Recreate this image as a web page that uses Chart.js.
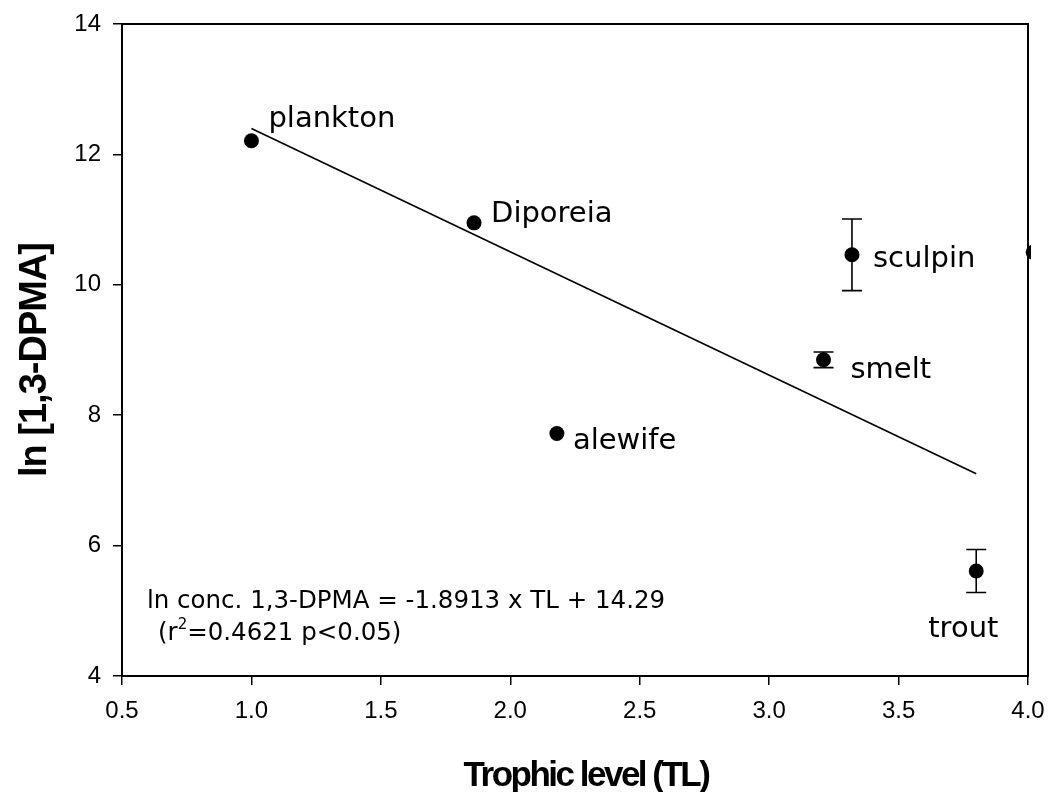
<!DOCTYPE html>
<html lang="en">
<head>
<meta charset="UTF-8">
<title>ln [1,3-DPMA] vs trophic level</title>
<style>
  html, body { margin: 0; padding: 0; background: #fff; }
</style>
</head>
<body>
<canvas id="tl-chart" width="1048" height="792"></canvas>
<script src="https://cdn.jsdelivr.net/npm/chart.js@4.4.1/dist/chart.umd.min.js"></script>
<script>
// food web samples: trophic level vs ln concentration (+/- error)
var species = ["plankton", "Diporeia", "alewife", "smelt", "sculpin", "trout", ""];
var trophic = [1.0, 1.86, 2.18, 3.21, 3.32, 3.80, 4.02];
var lnConc  = [12.21, 10.95, 7.72, 8.85, 10.46, 5.61, 10.5];
var lnErr   = [0, 0, 0, 0.12, 0.55, 0.33, 0];

// regression from the equation printed on the plot
var slope = -1.8913;
var intercept = 14.29;
var fitFrom = 1.0, fitTo = 3.8;

var xTicks = [0.5, 1.0, 1.5, 2.0, 2.5, 3.0, 3.5, 4.0];
var yTicks = [4, 6, 8, 10, 12, 14];

// label placement next to each dot: [dx, dy] to the text baseline start
var labelOffset = {
  plankton: [17, -14],
  Diporeia: [17, -1],
  alewife: [16, 16],
  smelt: [27, 18],
  sculpin: [21, 12],
  trout: [-48, 66]
};

var labelFont = '29px "DejaVu Sans"';
var eqFont = '24.5px "DejaVu Sans"';

var points = trophic.map(function (t, i) { return { x: t, y: lnConc[i] }; });
var fitLine = [fitFrom, fitTo].map(function (t) { return { x: t, y: slope * t + intercept }; });

var frame = {
  id: 'frame',
  afterDraw: function (chart) {
    var a = chart.chartArea, c = chart.ctx;
    c.save();
    c.strokeStyle = '#000';
    c.lineWidth = 2;
    c.strokeRect(a.left, a.top, a.right - a.left, a.bottom - a.top);
    c.restore();
  }
};

var errorBars = {
  id: 'errorBars',
  afterDatasetsDraw: function (chart) {
    var xs = chart.scales.x, ys = chart.scales.y, c = chart.ctx;
    c.save();
    c.strokeStyle = '#000';
    c.lineWidth = 1.6;
    for (var i = 0; i < trophic.length; i++) {
      if (!lnErr[i]) continue;
      var px = xs.getPixelForValue(trophic[i]);
      var top = ys.getPixelForValue(lnConc[i] + lnErr[i]);
      var bot = ys.getPixelForValue(lnConc[i] - lnErr[i]);
      c.beginPath();
      c.moveTo(px, top); c.lineTo(px, bot);
      c.moveTo(px - 10, top); c.lineTo(px + 10, top);
      c.moveTo(px - 10, bot); c.lineTo(px + 10, bot);
      c.stroke();
    }
    c.restore();
  }
};

var pointLabels = {
  id: 'pointLabels',
  afterDraw: function (chart) {
    var xs = chart.scales.x, ys = chart.scales.y, c = chart.ctx;
    var a = chart.chartArea;
    c.save();
    c.fillStyle = '#000';
    c.textBaseline = 'alphabetic';
    c.textAlign = 'left';
    c.font = labelFont;
    species.forEach(function (name, i) {
      if (!name) return;
      var off = labelOffset[name];
      c.fillText(name, xs.getPixelForValue(trophic[i]) + off[0], ys.getPixelForValue(lnConc[i]) + off[1]);
    });

    // regression equation, lower left
    c.font = eqFont;
    var ex = a.left + 25, ey = a.bottom - 68;
    c.fillText('ln conc. 1,3-DPMA = ' + slope + ' x TL + ' + intercept, ex, ey);
    var lx = ex + 11, ly = ey + 32;
    c.fillText('(r', lx, ly);
    var w = c.measureText('(r').width;
    c.font = '15px "DejaVu Sans"';
    c.fillText('2', lx + w, ly - 11);
    var w2 = c.measureText('2').width;
    c.font = eqFont;
    c.fillText('=0.4621 p<0.05)', lx + w + w2, ly);
    c.restore();
  }
};

var axisTitles = {
  id: 'axisTitles',
  afterDraw: function (chart) {
    var a = chart.chartArea, c = chart.ctx;
    c.save();
    c.fillStyle = '#000';
    c.textAlign = 'center';
    c.textBaseline = 'alphabetic';
    c.font = 'bold 35px "Liberation Sans"';
    c.letterSpacing = '-2.5px';
    c.fillText('Trophic level (TL)', (a.left + a.right) / 2 + 11, 786);
    c.font = 'bold 38px "Liberation Sans"';
    c.letterSpacing = '-1px';
    c.translate(46, (a.top + a.bottom) / 2 + 10);
    c.rotate(-Math.PI / 2);
    c.fillText('ln [1,3-DPMA]', 0, 0);
    c.restore();
  }
};

function tickOpts(fmt) {
  return {
    color: '#000',
    font: { family: '"Liberation Sans"', size: 24 },
    padding: 12,
    maxRotation: 0,
    callback: fmt
  };
}

new Chart(document.getElementById('tl-chart'), {
  type: 'scatter',
  data: {
    datasets: [{
      label: 'samples',
      data: points,
      pointRadius: 7.5,
      pointHoverRadius: 7.5,
      pointBackgroundColor: '#000',
      pointBorderWidth: 0,
      clip: { left: 0, top: 0, bottom: 0, right: 3 }
    }, {
      label: 'fit',
      type: 'line',
      data: fitLine,
      borderColor: '#000',
      borderWidth: 1.6,
      pointRadius: 0,
      fill: false
    }]
  },
  options: {
    responsive: false,
    animation: false,
    layout: { padding: { top: 24, right: 20, left: 0, bottom: 0 } },
    plugins: { legend: { display: false }, tooltip: { enabled: false } },
    scales: {
      x: {
        type: 'linear',
        min: xTicks[0],
        max: xTicks[xTicks.length - 1],
        afterBuildTicks: function (s) { s.ticks = xTicks.map(function (v) { return { value: v }; }); },
        afterFit: function (s) { s.height = 116; s.paddingLeft = 0; s.paddingRight = 0; },
        grid: { display: true, drawOnChartArea: false, color: '#000', lineWidth: 1.5, tickLength: 9 },
        border: { display: false },
        ticks: tickOpts(function (v) { return Number(v).toFixed(1); })
      },
      y: {
        type: 'linear',
        min: yTicks[0],
        max: yTicks[yTicks.length - 1],
        afterBuildTicks: function (s) { s.ticks = yTicks.map(function (v) { return { value: v }; }); },
        afterFit: function (s) { s.width = 122; s.paddingTop = 0; s.paddingBottom = 0; },
        grid: { display: true, drawOnChartArea: false, color: '#000', lineWidth: 1.5, tickLength: 9 },
        border: { display: false },
        ticks: tickOpts(function (v) { return String(v); })
      }
    }
  },
  plugins: [frame, errorBars, pointLabels, axisTitles]
});
</script>
</body>
</html>
